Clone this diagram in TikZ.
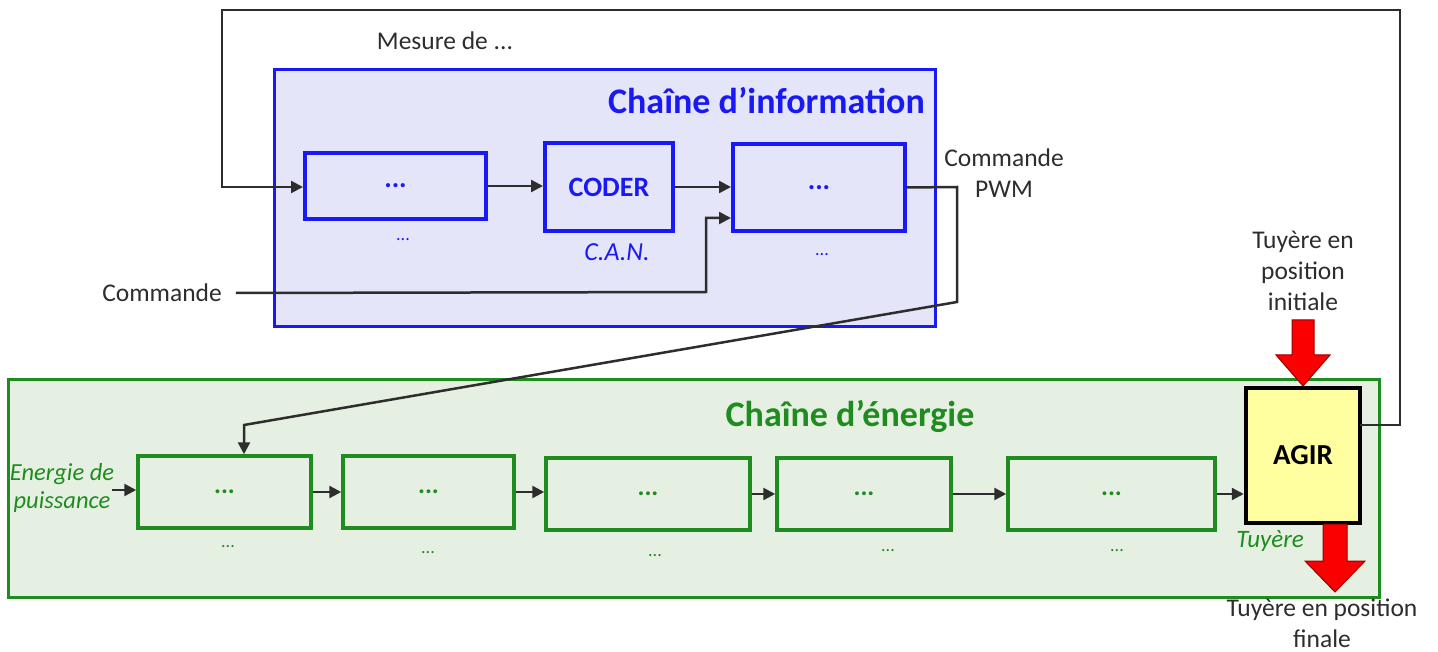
\documentclass[tikz,border=0pt]{standalone}
\usepackage{fontspec}
\setmainfont{Carlito}
\usetikzlibrary{arrows.meta,calc}
\definecolor{bleu}{RGB}{25,25,245}
\definecolor{bleufond}{RGB}{229,229,250}
\definecolor{vert}{RGB}{30,140,30}
\definecolor{vertfond}{RGB}{229,240,227}
\definecolor{texte}{RGB}{45,45,45}
\definecolor{jaune}{RGB}{255,255,160}
\definecolor{rouge}{RGB}{250,0,0}
\definecolor{rougefonce}{RGB}{150,0,0}
\begin{document}
\begin{tikzpicture}[x=1pt,y=-1pt,
  bframe/.style={draw=bleu, fill=bleufond, line width=3pt, inner sep=0pt},
  gframe/.style={draw=vert, fill=vertfond, line width=3pt, inner sep=0pt},
  bbox/.style={draw=bleu, fill=bleufond, line width=4pt, inner sep=0pt, text=bleu, font=\fontsize{28}{32}\selectfont\bfseries},
  gbox/.style={draw=vert, fill=vertfond, line width=3.5pt, inner sep=0pt, text=vert, font=\fontsize{26}{30}\selectfont\bfseries, minimum height=72},
  txt/.style={text=texte, font=\fontsize{25.5}{31}\selectfont, align=center, inner sep=0pt},
  bsmall/.style={text=bleu, font=\fontsize{18}{20}\selectfont, inner sep=0pt},
  gsmall/.style={text=vert, font=\fontsize{18}{20}\selectfont, inner sep=0pt},
  wire/.style={draw=texte, line width=2.5pt},
  arr/.style={wire, -{Triangle[length=12pt,width=12pt]}},
  bigarrow/.style={draw=rougefonce, fill=rouge, line width=1pt}
]
\useasboundingbox (0,0) rectangle (1438,652);

% frames
\node[bframe, minimum width=661, minimum height=257] (info) at (604.5,198.5) {};
\node[gframe, minimum width=1371, minimum height=218] (ener) at (693.5,488) {};

\node[anchor=east, text=bleu, font=\fontsize{36}{40}\selectfont\bfseries, inner sep=0pt] (tinfo) at (925,101) {Chaîne d’information};
\node[text=vert, font=\fontsize{36}{40}\selectfont\bfseries, inner sep=0pt] (tener) at (850,416) {Chaîne d’énergie};

% information chain boxes
\node[bbox, minimum width=181, minimum height=66] (b1) at (395.5,186) {...};
\node[bbox, minimum width=128, minimum height=88] (coder) at (609,187) {CODER};
\node[bbox, minimum width=172, minimum height=87] (b3) at (819,187.5) {...};
\node[bsmall] (lb1) at (403,240) {...};
\node[text=bleu, font=\fontsize{26}{30}\selectfont\itshape, inner sep=0pt] (lcoder) at (617,252) {C.A.N.};
\node[bsmall] (lb3) at (822,255) {...};

\draw[arr] (b1.east) -- (b1.east -| coder.west);
\draw[arr] (coder.east) -- (coder.east -| b3.west);

% energy chain boxes
\node[gbox, minimum width=173] (g1) at (224.5,492) {...};
\node[gbox, minimum width=171] (g2) at (428.5,492) {...};
\node[gbox, minimum width=204] (g3) at (648,494) {...};
\node[gbox, minimum width=174] (g4) at (864,494) {...};
\node[gbox, minimum width=207] (g5) at (1111.5,494) {...};
\node[gsmall] (lg1) at (228,547) {...};
\node[gsmall] (lg2) at (428,553) {...};
\node[gsmall] (lg3) at (655,556) {...};
\node[gsmall] (lg4) at (888,551) {...};
\node[gsmall] (lg5) at (1117,551) {...};

\node[draw=black, fill=jaune, line width=4.5pt, minimum width=114, minimum height=135, inner sep=0pt, font=\fontsize{29}{32}\selectfont\bfseries] (agir) at (1303,455.5) {AGIR};
\node[text=vert, font=\fontsize{25}{30}\selectfont\itshape, inner sep=0pt] (ltuy) at (1270,541) {Tuyère};

\draw[arr] (g1.east) -- (g1.east -| g2.west);
\draw[arr] (g2.east) -- (g2.east -| g3.west);
\draw[arr] (g3.east) -- (g3.east -| g4.west);
\draw[arr] (g4.east) -- (g4.east -| g5.west);
\draw[arr] (g5.east) -- (g5.east -| agir.west);

\node[text=vert, font=\fontsize{24.5}{28}\selectfont\itshape, align=center, inner sep=0pt] (epuis) at (62,488) {Energie de\\puissance};
\coordinate (ein) at (112,490);
\draw[arr] (ein) -- (ein -| g1.west);

% feedback loop
\coordinate (fb0) at (1360,425);
\coordinate (fb1) at (1400,425);
\coordinate (fb2) at (1400,10);
\coordinate (fb3) at (222,10);
\coordinate (fb4) at (222,187);
\draw[arr] (fb0) -- (fb1) -- (fb2) -- (fb3) -- (fb4) -- (fb4 -| b1.west);
\node[txt] (mesure) at (445,41) {Mesure de ...};

% commande
\node[txt] (cmd) at (162,293) {Commande};
\coordinate (c1) at (706,292);
\coordinate (c2) at (706,218);
\draw[arr] ([xshift=14pt]cmd.east) -- (c1) -- (c2) -- (c2 -| b3.west);

% PWM
\node[txt] (pwm) at (1004,173) {Commande\\PWM};
\coordinate (p1) at (957,187);
\coordinate (p2) at (957,302);
\coordinate (p3) at (244,425);
\draw[arr] (b3.east) -- (p1) -- (p2) -- (p3) -- (p3 |- g1.north);

% red arrows
\node[txt] (tinit) at (1303,271) {Tuyère en\\position\\initiale};
\node[txt] (tfin) at (1322,623) {Tuyère en position\\finale};
\draw[bigarrow] (1292,320) -- (1314,320) -- (1314,355) -- (1330,355) -- (1303,386) -- (1276,355) -- (1292,355) -- cycle;
\draw[bigarrow] (1323,524) -- (1347,524) -- (1347,561) -- (1365,561) -- (1335,592) -- (1305,561) -- (1323,561) -- cycle;
\end{tikzpicture}
\end{document}
